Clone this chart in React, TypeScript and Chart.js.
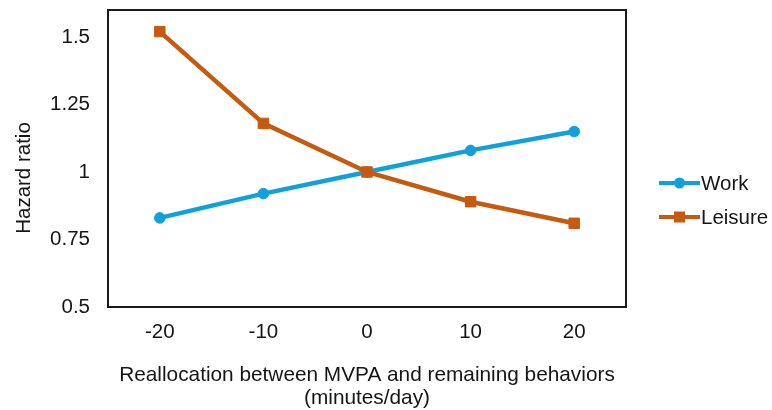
import React, { useEffect, useRef } from "react";
import { Chart, registerables } from "chart.js";

Chart.register(...registerables);

const categories = ["-20", "-10", "0", "10", "20"];
const workValues = [0.83, 0.92, 1.0, 1.08, 1.15];
const leisureValues = [1.52, 1.18, 1.0, 0.89, 0.81];
const yTickValues = [0.5, 0.75, 1, 1.25, 1.5];
const yTickLabels = ["0.5", "0.75", "1", "1.25", "1.5"];
const seriesNames = ["Work", "Leisure"];
const xTitle = ["Reallocation between MVPA and remaining behaviors", "(minutes/day)"];
const yTitle = "Hazard ratio";

const FONT = "'Liberation Sans', Arial, sans-serif";
const BLUE = "#12A0DA";
const ORANGE = "#C55A11";
const TEXT = "#151515";

const framePlugin = {
  id: "frameAndLegend",
  afterDatasetsDraw(chart: any) {
    const { ctx, chartArea } = chart;
    ctx.save();
    ctx.strokeStyle = "#1a1a1a";
    ctx.lineWidth = 2;
    ctx.strokeRect(chartArea.left, chartArea.top, chartArea.right - chartArea.left, chartArea.bottom - chartArea.top);
    ctx.restore();
  },
  afterDraw(chart: any) {
    const { ctx, chartArea } = chart;
    ctx.save();
    ctx.fillStyle = TEXT;
    ctx.font = `20.5px ${FONT}`;
    ctx.textAlign = "center";
    ctx.textBaseline = "middle";
    ctx.translate(24, 178);
    ctx.rotate(-Math.PI / 2);
    ctx.fillText(yTitle, 0, 0);
    ctx.restore();

    const datasets = chart.data.datasets;
    const x0 = chartArea.right + 33;
    const x1 = x0 + 41;
    const ys = [183, 217];
    seriesNames.forEach((name, i) => {
      const ds = datasets.find((d: any) => d.label === name);
      const y = ys[i];
      ctx.save();
      ctx.strokeStyle = ds.borderColor;
      ctx.lineWidth = 4;
      ctx.beginPath();
      ctx.moveTo(x0, y);
      ctx.lineTo(x1, y);
      ctx.stroke();
      ctx.fillStyle = ds.borderColor;
      const cx = (x0 + x1) / 2;
      if (ds.pointStyle === "rect") {
        ctx.fillRect(cx - 5.5, y - 5.5, 11, 11);
      } else {
        ctx.beginPath();
        ctx.arc(cx, y, 5.5, 0, Math.PI * 2);
        ctx.fill();
      }
      ctx.fillStyle = TEXT;
      ctx.font = `20.5px ${FONT}`;
      ctx.textAlign = "left";
      ctx.textBaseline = "middle";
      ctx.fillText(name, x1 + 1, y + 1);
      ctx.restore();
    });
  },
};

export default function App() {
  const canvasRef = useRef<HTMLCanvasElement | null>(null);

  useEffect(() => {
    if (!canvasRef.current) return;
    const chart = new Chart(canvasRef.current, {
      type: "line",
      data: {
        labels: categories,
        datasets: [
          {
            label: seriesNames[0],
            data: workValues,
            borderColor: BLUE,
            backgroundColor: BLUE,
            borderWidth: 4.5,
            pointStyle: "circle",
            pointRadius: 5.3,
            pointBorderWidth: 1,
            pointBackgroundColor: BLUE,
            pointBorderColor: BLUE,
            tension: 0,
            order: 1,
          },
          {
            label: seriesNames[1],
            data: leisureValues,
            borderColor: ORANGE,
            backgroundColor: ORANGE,
            borderWidth: 4.5,
            pointStyle: "rect",
            pointRadius: 7.4,
            pointBorderWidth: 1,
            pointBackgroundColor: ORANGE,
            pointBorderColor: ORANGE,
            tension: 0,
            order: 0,
          },
        ],
      },
      options: {
        animation: false,
        responsive: true,
        maintainAspectRatio: false,
        layout: { padding: { top: 10, right: 146, bottom: 0, left: 0 } },
        plugins: {
          legend: { display: false },
          tooltip: { enabled: false },
          title: { display: false },
        },
        scales: {
          x: {
            type: "category",
            offset: true,
            grid: { display: false, drawTicks: false, tickLength: 0 },
            border: { display: false },
            ticks: {
              color: TEXT,
              font: { family: FONT, size: 20.5, lineHeight: 1.2 },
              padding: 13,
              maxRotation: 0,
              autoSkip: false,
            },
            title: {
              display: true,
              text: xTitle,
              color: TEXT,
              font: { family: FONT, size: 20.8, lineHeight: 1.12 },
              padding: { top: 0, bottom: 0 },
            },
            afterFit(scale: any) {
              scale.height = 103;
              scale.paddingLeft = 0;
              scale.paddingRight = 0;
            },
          },
          y: {
            type: "linear",
            min: 0.5,
            max: 1.6,
            grid: { display: false, drawTicks: false, tickLength: 0 },
            border: { display: false },
            afterBuildTicks(scale: any) {
              scale.ticks = yTickValues.map((v) => ({ value: v }));
            },
            ticks: {
              color: TEXT,
              font: { family: FONT, size: 20.5, lineHeight: 1.2 },
              padding: 18,
              callback: (value: any) => {
                const idx = yTickValues.indexOf(Number(value));
                return idx >= 0 ? yTickLabels[idx] : "";
              },
            },
            title: { display: false },
            afterFit(scale: any) {
              scale.width = 108;
              scale.paddingTop = 0;
              scale.paddingBottom = 0;
            },
          },
        },
      },
      plugins: [framePlugin],
    });
    return () => chart.destroy();
  }, []);

  return (
    <div style={{ position: "fixed", left: 0, top: 0, width: 772, height: 410, background: "#fff" }}>
      <canvas ref={canvasRef} />
    </div>
  );
}
